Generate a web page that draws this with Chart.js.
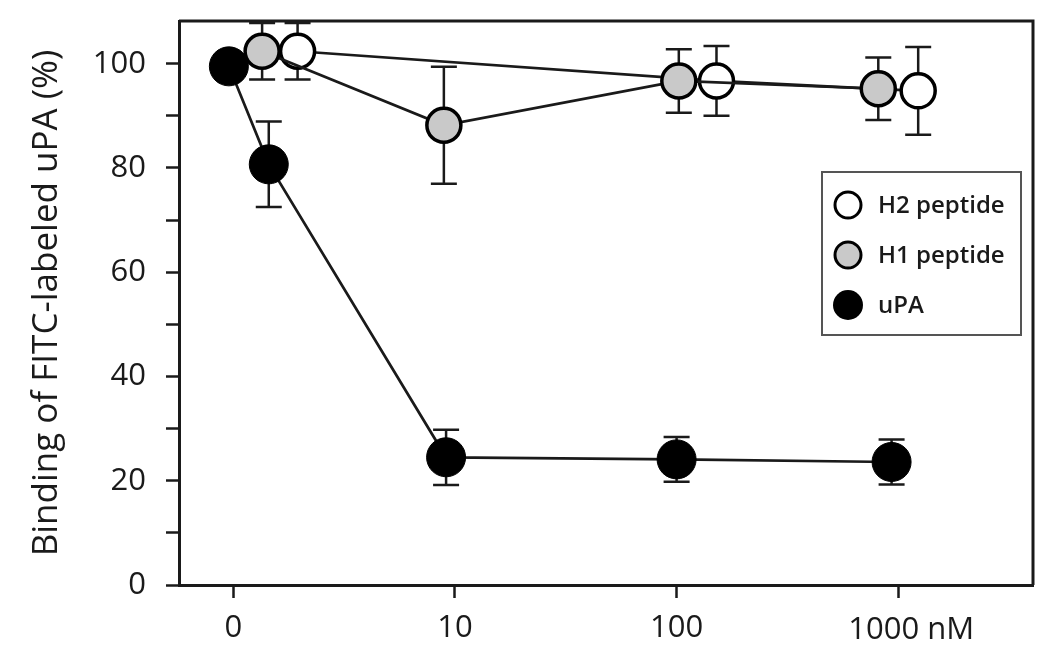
<!DOCTYPE html>
<html>
<head>
<meta charset="utf-8">
<script src="https://cdn.jsdelivr.net/npm/chart.js@4.4.0/dist/chart.umd.min.js"></script>
<style>
  html, body { margin: 0; padding: 0; background: #fff; }
  #chart { display: block; }
</style>
</head>
<body>
<canvas id="chart" width="1063" height="669"></canvas>
<script>
// x tick labels (concentration), y axis title
const xTickLabels = ['0', '10', '100', '1000 nM'];
const yTitle = 'Binding of FITC-labeled uPA (%)';

// series: x is the dodged position on the category axis (0 = 0, 1 = 10, 2 = 100, 3 = 1000 nM)
const h2X = [0.29, 2.18, 3.09];
const h2Y = [102.4, 96.7, 94.8];
const h2Err = [5.4, 6.7, 8.4];

const h1X = [0.13, 0.95, 2.01, 2.91];
const h1Y = [102.4, 88.2, 96.7, 95.2];
const h1Err = [5.4, 11.2, 6.1, 6.0];

const upaX = [-0.02, 0.16, 0.96, 2.0, 2.97];
const upaY = [99.5, 80.7, 24.5, 24.1, 23.6];
const upaErr = [0, 8.2, 5.3, 4.3, 4.3];

const FONT = "'Open Sans', 'DejaVu Sans', sans-serif";
const INK = '#1a1a1a';

function toPoints(xs, ys) {
    return xs.map((x, i) => ({ x: x, y: ys[i] }));
}

// error bars drawn behind the markers
const errorBars = {
    id: 'errorBars',
    beforeDatasetsDraw(chart) {
        const ctx = chart.ctx;
        const yScale = chart.scales.y;
        ctx.save();
        ctx.strokeStyle = INK;
        ctx.lineWidth = 2.5;
        chart.data.datasets.forEach((ds, di) => {
            const meta = chart.getDatasetMeta(di);
            meta.data.forEach((pt, i) => {
                const e = ds.errors[i];
                if (!e) return;
                const v = ds.data[i].y;
                const top = yScale.getPixelForValue(v + e);
                const bot = yScale.getPixelForValue(v - e);
                ctx.beginPath();
                ctx.moveTo(pt.x, top);
                ctx.lineTo(pt.x, bot);
                ctx.moveTo(pt.x - 13, top);
                ctx.lineTo(pt.x + 13, top);
                ctx.moveTo(pt.x - 13, bot);
                ctx.lineTo(pt.x + 13, bot);
                ctx.stroke();
            });
        });
        ctx.restore();
    }
};

// top/right frame, legend box, last x label with its unit
const frameAndLegend = {
    id: 'frameAndLegend',
    afterDraw(chart) {
        const ctx = chart.ctx;
        const a = chart.chartArea;
        ctx.save();
        ctx.strokeStyle = INK;
        ctx.lineWidth = 3;
        ctx.beginPath();
        ctx.moveTo(a.left, a.top);
        ctx.lineTo(a.right, a.top);
        ctx.lineTo(a.right, a.bottom);
        ctx.stroke();

        // legend
        const bx = a.right - 211, by = a.top + 151, bw = 199, bh = 163;
        ctx.strokeStyle = '#555';
        ctx.lineWidth = 2;
        ctx.strokeRect(bx, by, bw, bh);
        ctx.font = '600 24px ' + FONT;
        ctx.textBaseline = 'middle';
        ctx.textAlign = 'left';
        chart.data.datasets.forEach((ds, k) => {
            const cx = bx + 26, cy = by + 33 + k * 50;
            ctx.beginPath();
            ctx.arc(cx, cy, ds.borderWidthLegend ? 13 : 15, 0, Math.PI * 2);
            ctx.fillStyle = ds.pointBackgroundColor;
            ctx.fill();
            if (ds.borderWidthLegend) {
                ctx.lineWidth = ds.borderWidthLegend;
                ctx.strokeStyle = '#000';
                ctx.stroke();
            }
            ctx.fillStyle = INK;
            ctx.fillText(ds.label, bx + 56, cy + 1);
        });

        // "1000 nM" sits with the number on the tick
        const xs = chart.scales.x;
        const tx = xs.getPixelForValue(3);
        ctx.font = '31px ' + FONT;
        ctx.fillStyle = INK;
        ctx.textAlign = 'left';
        ctx.textBaseline = 'middle';
        ctx.fillText(xTickLabels[3], tx - 50, 630);
        ctx.restore();
    }
};

new Chart(document.getElementById('chart'), {
    type: 'scatter',
    data: {
        datasets: [
            {
                label: 'H2 peptide',
                data: toPoints(h2X, h2Y),
                errors: h2Err,
                showLine: true,
                borderColor: INK,
                borderWidth: 2.7,
                pointBackgroundColor: '#ffffff',
                pointBorderColor: '#000',
                pointBorderWidth: 3.5,
                pointRadius: 17,
                pointHoverRadius: 17,
                borderWidthLegend: 3,
                order: 1
            },
            {
                label: 'H1 peptide',
                data: toPoints(h1X, h1Y),
                errors: h1Err,
                showLine: true,
                borderColor: INK,
                borderWidth: 2.7,
                pointBackgroundColor: '#c9c9c9',
                pointBorderColor: '#000',
                pointBorderWidth: 3.5,
                pointRadius: 17,
                pointHoverRadius: 17,
                borderWidthLegend: 3,
                order: 0
            },
            {
                label: 'uPA',
                data: toPoints(upaX, upaY),
                errors: upaErr,
                showLine: true,
                borderColor: INK,
                borderWidth: 2.7,
                pointBackgroundColor: '#000',
                pointBorderColor: '#000',
                pointBorderWidth: 1,
                pointRadius: 19.5,
                pointHoverRadius: 19.5,
                order: 2
            }
        ]
    },
    options: {
        responsive: false,
        animation: false,
        devicePixelRatio: 1,
        layout: { padding: { left: 0, top: 21, right: 30, bottom: 0 } },
        plugins: {
            legend: { display: false },
            tooltip: { enabled: false }
        },
        scales: {
            x: {
                type: 'linear',
                min: -0.245,
                max: 3.608,
                afterFit: s => { s.height = 84; s.paddingLeft = 0; s.paddingRight = 0; },
                border: { display: true, width: 3, color: INK },
                grid: { drawOnChartArea: false, drawTicks: true, tickLength: 13, tickWidth: 2.5, tickColor: INK },
                ticks: {
                    stepSize: 1,
                    includeBounds: false,
                    autoSkip: false,
                    maxRotation: 0,
                    padding: 12,
                    color: INK,
                    font: { family: FONT, size: 31 },
                    callback: (v) => (Number.isInteger(v) && v < 3 ? xTickLabels[v] : '')
                }
            },
            y: {
                type: 'linear',
                min: 0,
                max: 108.2,
                afterFit: s => { s.width = 179; s.paddingTop = 0; s.paddingBottom = 0; },
                border: { display: true, width: 3, color: INK },
                grid: { drawOnChartArea: false, drawTicks: true, tickLength: 13, tickWidth: 2.5, tickColor: INK },
                title: {
                    display: true,
                    text: yTitle,
                    color: INK,
                    font: { family: FONT, size: 35 },
                    padding: { top: 26, bottom: 0 }
                },
                ticks: {
                    stepSize: 10,
                    includeBounds: false,
                    padding: 20,
                    color: INK,
                    font: { family: FONT, size: 31 },
                    callback: v => (v % 20 === 0 ? v : '')
                }
            }
        }
    },
    plugins: [errorBars, frameAndLegend]
});
</script>
</body>
</html>
